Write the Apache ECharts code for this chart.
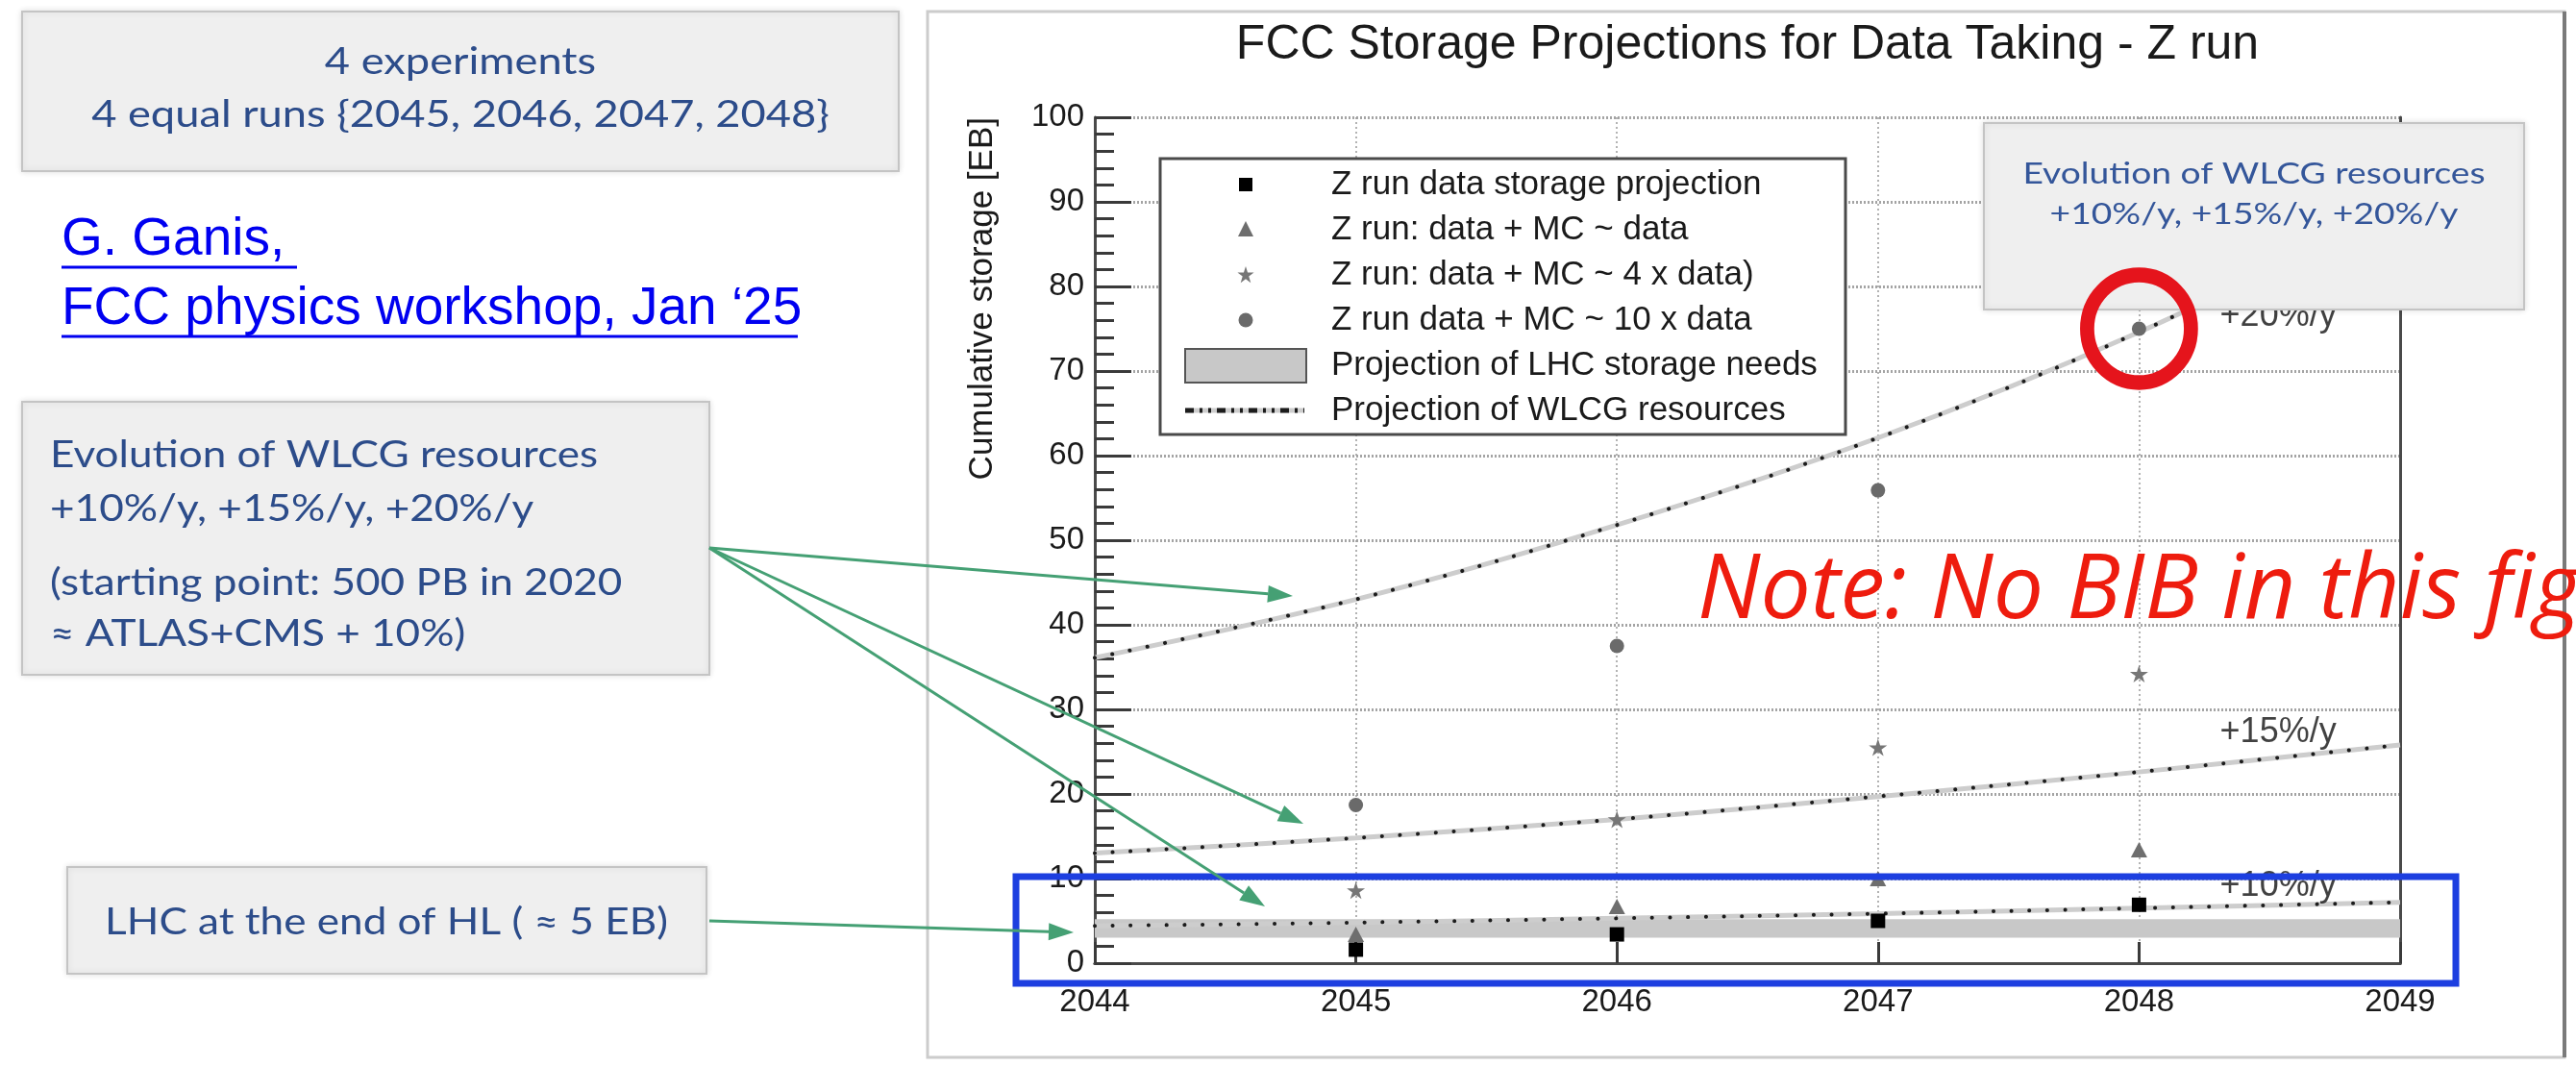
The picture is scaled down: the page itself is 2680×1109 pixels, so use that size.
<!DOCTYPE html>
<html>
<head>
<meta charset="utf-8">
<script src="https://cdn.jsdelivr.net/npm/echarts@6/dist/echarts.min.js"></script>
<style>
  html, body { margin: 0; padding: 0; background: #ffffff; }
  #chart { width: 2680px; height: 1109px; }
</style>
</head>
<body>
<div id="chart"></div>
<script>
// Run years and cumulative storage per scenario [EB]
const runYears = [2045, 2046, 2047, 2048];
const zRunData = [1.6, 3.4, 5.0, 6.9];
const dataMcEqual = [3.4, 6.7, 10.0, 13.4];
const dataMc4x = [8.6, 17.0, 25.5, 34.2];
const dataMc10x = [18.7, 37.5, 55.9, 75.0];

// WLCG resource projections, yearly growth of 20%, 15%, 10%
const wlcgYears = [2044, 2045, 2046, 2047, 2048, 2049];
const wlcg20 = [36.1, 43.0, 51.8, 62.1, 74.6, 89.5];
const wlcg15 = [13.0, 14.8, 17.0, 19.7, 22.6, 25.8];
const wlcg10 = [4.4, 4.8, 5.3, 5.85, 6.5, 7.2];

// LHC storage needs band [low, high] over the whole range
const lhcBand = [3.0, 5.2];
const axisYears = [2044, 2049];

// growth tags written next to the projection curves: [year, EB]
const rateTags = ['+20%/y', '+15%/y', '+10%/y'];
const rateTagAt = [[2048.31, 76.5], [2048.31, 27.3], [2048.31, 9.1]];

const legendNames = [
  'Z run data storage projection',
  'Z run: data + MC ~ data',
  'Z run: data + MC ~ 4 x data)',
  'Z run data + MC ~ 10 x data',
  'Projection of LHC storage needs',
  'Projection of WLCG resources'
];

const ROOT_FONT = '"Liberation Sans", Arial, Helvetica, sans-serif';
const SLIDE_FONT = 'Lato, "Open Sans", sans-serif';
const SLIDE_BLUE = '#2c4c8a';
const ARROW_GREEN = '#45a074';
const STAR_PTS = [[50, 0], [61.2, 34.5], [97.6, 34.5], [68.2, 55.9], [79.4, 90.5], [50, 69.1], [20.6, 90.5], [31.8, 55.9], [2.4, 34.5], [38.8, 34.5]];
const STAR = 'path://M' + STAR_PTS.map(p => p.join(',')).join(' L') + ' Z';

const pair = (xs, ys) => xs.map((x, i) => [x, ys[i]]);

function wlcgSeries(values) {
  return [
    {
      name: legendNames[5], type: 'line', data: pair(wlcgYears, values),
      smooth: 0.35, showSymbol: false, silent: true, z: 3,
      lineStyle: { color: '#cdcdcd', width: 5 }
    },
    {
      name: legendNames[5], type: 'line', data: pair(wlcgYears, values),
      smooth: 0.35, showSymbol: false, silent: true, z: 4,
      lineStyle: { color: '#1c1c1c', width: 4, type: [0.1, 18.6], cap: 'round' }
    }
  ];
}

function arrow(x1, y1, x2, y2) {
  const a = Math.atan2(y2 - y1, x2 - x1);
  const L = 26, W = 9;
  const bx = x2 - L * Math.cos(a), by = y2 - L * Math.sin(a);
  const px = -Math.sin(a) * W, py = Math.cos(a) * W;
  return [
    { type: 'line', z: 66, shape: { x1, y1, x2: bx, y2: by }, style: { stroke: ARROW_GREEN, lineWidth: 3 } },
    { type: 'polygon', z: 66, shape: { points: [[x2, y2], [bx + px, by + py], [bx - px, by - py]] }, style: { fill: ARROW_GREEN } }
  ];
}

function slideBox(x, y, w, h) {
  return {
    type: 'rect', z: 50, shape: { x, y, width: w, height: h },
    style: { fill: '#efefef', stroke: '#c4c4c4', lineWidth: 2, shadowBlur: 6, shadowColor: 'rgba(0,0,0,0.12)' }
  };
}

// slide captions use a wide geometric sans; Lato is stretched a little to match
function slideText(text, x, y, size, align, color, stretch) {
  return {
    type: 'text', z: 51, x, y, scaleX: stretch || 1.16,
    style: { text, fontFamily: SLIDE_FONT, fontSize: size, fill: color || SLIDE_BLUE, align: align || 'left', verticalAlign: 'middle' }
  };
}

// legend drawn as a framed box with marker samples
const legendTop = 192, legendStep = 47, iconX = 1296, labelX = 1385;
const starCy = legendTop + 2 * legendStep;
const legendGraphics = [
  { type: 'rect', z: 30, shape: { x: 1207, y: 165, width: 713, height: 287 }, style: { fill: '#ffffff', stroke: '#4a4a4a', lineWidth: 3 } },
  { type: 'rect', z: 31, shape: { x: iconX - 7, y: legendTop - 7, width: 14, height: 14 }, style: { fill: '#000000' } },
  { type: 'polygon', z: 31, shape: { points: [[iconX, legendTop + legendStep - 9], [iconX + 8, legendTop + legendStep + 7], [iconX - 8, legendTop + legendStep + 7]] }, style: { fill: '#6e6e6e' } },
  { type: 'polygon', z: 31, shape: { points: STAR_PTS.map(p => [iconX - 9 + p[0] * 0.18, starCy - 9 + p[1] * 0.19]) }, style: { fill: '#767676' } },
  { type: 'circle', z: 31, shape: { cx: iconX, cy: legendTop + 3 * legendStep, r: 7.5 }, style: { fill: '#6a6a6a' } },
  { type: 'rect', z: 31, shape: { x: 1233, y: legendTop + 4 * legendStep - 17, width: 126, height: 35 }, style: { fill: '#c8c8c8', stroke: '#555555', lineWidth: 2 } },
  { type: 'line', z: 31, shape: { x1: 1233, y1: legendTop + 5 * legendStep, x2: 1357, y2: legendTop + 5 * legendStep }, style: { stroke: '#cdcdcd', lineWidth: 5 } },
  { type: 'line', z: 32, shape: { x1: 1233, y1: legendTop + 5 * legendStep, x2: 1357, y2: legendTop + 5 * legendStep }, style: { stroke: '#1c1c1c', lineWidth: 5, lineDash: [9, 6, 3, 6, 3, 6] } }
].concat(legendNames.map((name, i) => ({
  type: 'text', z: 31, x: labelX, y: legendTop + i * legendStep,
  style: { text: name, fontFamily: ROOT_FONT, fontSize: 35, fill: '#1a1a1a', align: 'left', verticalAlign: 'middle' }
})));

const chart = echarts.init(document.getElementById('chart'), null, { renderer: 'canvas' });

const axisText = { fontFamily: ROOT_FONT, fontSize: 33, color: '#1a1a1a' };
const frameAxis = { show: true, lineStyle: { color: '#4a4a4a', width: 3 } };

chart.setOption({
  animation: false,
  backgroundColor: '#ffffff',
  grid: { left: 1139, right: 183, top: 122, bottom: 107 },
  xAxis: [
    {
      type: 'value', min: axisYears[0], max: axisYears[1], interval: 1,
      axisLine: frameAxis,
      axisTick: { inside: true, length: 22, lineStyle: { color: '#3a3a3a', width: 3 } },
      axisLabel: Object.assign({ margin: 24, formatter: v => String(v) }, axisText),
      splitLine: { show: true, lineStyle: { color: '#9a9a9a', width: 1.5, type: [2, 3] } }
    },
    {
      type: 'value', position: 'top', min: axisYears[0], max: axisYears[1], interval: 1,
      axisLine: frameAxis, axisTick: { show: false }, axisLabel: { show: false }, splitLine: { show: false }
    }
  ],
  yAxis: [
    {
      type: 'value', min: 0, max: 100, interval: 10,
      axisLine: frameAxis,
      axisTick: { inside: true, length: 38, lineStyle: { color: '#3a3a3a', width: 3 } },
      minorTick: { show: true, splitNumber: 5, length: 20, lineStyle: { color: '#3a3a3a', width: 3 } },
      axisLabel: Object.assign({ margin: 11 }, axisText),
      splitLine: { show: true, lineStyle: { color: '#a4a4a4', width: 3, type: [2, 2] } }
    },
    {
      type: 'value', position: 'right', min: 0, max: 100, interval: 10,
      axisLine: frameAxis, axisTick: { show: false }, axisLabel: { show: false }, splitLine: { show: false }
    }
  ],
  series: [
    {
      name: legendNames[4], type: 'line', data: [[axisYears[0], lhcBand[0]]],
      showSymbol: false, silent: true, z: 1, lineStyle: { opacity: 0 },
      markArea: {
        silent: true, itemStyle: { color: '#c8c8c8' },
        data: [[{ coord: [axisYears[0], lhcBand[0]] }, { coord: [axisYears[1], lhcBand[1]] }]]
      }
    },
    ...wlcgSeries(wlcg20),
    ...wlcgSeries(wlcg15),
    ...wlcgSeries(wlcg10),
    {
      name: legendNames[0], type: 'scatter', data: pair(runYears, zRunData), z: 6,
      symbol: 'rect', symbolSize: 15, itemStyle: { color: '#000000', opacity: 1 }
    },
    {
      name: legendNames[1], type: 'scatter', data: pair(runYears, dataMcEqual), z: 6,
      symbol: 'triangle', symbolSize: [17, 16], itemStyle: { color: '#6e6e6e', opacity: 1 }
    },
    {
      name: legendNames[2], type: 'scatter', data: pair(runYears, dataMc4x), z: 6,
      symbol: STAR, symbolSize: [19, 18], itemStyle: { color: '#767676', opacity: 1 }
    },
    {
      name: legendNames[3], type: 'scatter', data: pair(runYears, dataMc10x), z: 6,
      symbol: 'circle', symbolSize: 15, itemStyle: { color: '#6a6a6a', opacity: 1 }
    },
    {
      name: 'growth tags', type: 'scatter', symbolSize: 0, silent: true, z: 10,
      data: rateTags.map((t, i) => ({ name: t, value: rateTagAt[i] })),
      label: { show: true, position: 'right', distance: 0, formatter: '{b}', fontFamily: ROOT_FONT, fontSize: 36, color: '#111111' }
    },
    {
      // red ring around the 10 x data point of the last run
      name: 'highlight', type: 'scatter', silent: true, z: 60,
      data: [[runYears[3], dataMc10x[3]]],
      symbol: 'circle', symbolSize: [108, 112],
      itemStyle: { color: 'rgba(0,0,0,0)', borderColor: '#e5141c', borderWidth: 15, opacity: 1 }
    }
  ],
  graphic: [
    // plot panel
    { type: 'rect', z: -10, shape: { x: 965, y: 12, width: 1703, height: 1088 }, style: { fill: '#ffffff', stroke: '#cccccc', lineWidth: 3 } },
    { type: 'line', z: -9, shape: { x1: 2668, y1: 12, x2: 2668, y2: 1100 }, style: { stroke: '#7a7a7a', lineWidth: 4 } },
    { type: 'text', z: 20, x: 1818, y: 47, style: { text: 'FCC Storage Projections for Data Taking - Z run', fontFamily: ROOT_FONT, fontSize: 50, fill: '#1a1a1a', align: 'center', verticalAlign: 'middle' } },
    { type: 'text', z: 20, x: 1022, y: 122, rotation: Math.PI / 2, style: { text: 'Cumulative storage [EB]', fontFamily: ROOT_FONT, fontSize: 35, fill: '#1a1a1a', align: 'right', verticalAlign: 'middle' } },
    ...legendGraphics,

    // slide annotations
    slideBox(23, 12, 912, 166),
    slideText('4 experiments', 479, 64, 39, 'center'),
    slideText('4 equal runs {2045, 2046, 2047, 2048}', 479, 119, 39, 'center'),

    { type: 'text', z: 51, x: 64, y: 250, style: { text: 'G. Ganis, ', fontFamily: ROOT_FONT, fontSize: 55, fill: '#0000f0', align: 'left', verticalAlign: 'middle' } },
    { type: 'text', z: 51, x: 64, y: 322, style: { text: 'FCC physics workshop, Jan \u201825', fontFamily: ROOT_FONT, fontSize: 55, fill: '#0000f0', align: 'left', verticalAlign: 'middle' } },
    { type: 'line', z: 51, shape: { x1: 64, y1: 278, x2: 309, y2: 278 }, style: { stroke: '#0000f0', lineWidth: 3 } },
    { type: 'line', z: 51, shape: { x1: 64, y1: 350, x2: 830, y2: 350 }, style: { stroke: '#0000f0', lineWidth: 3 } },

    slideBox(23, 418, 715, 284),
    slideText('Evolution of WLCG resources', 52, 474, 38),
    slideText('+10%/y, +15%/y, +20%/y', 52, 530, 38),
    slideText('(starting point: 500 PB in 2020', 52, 607, 38),
    slideText('\u2248 ATLAS+CMS + 10%)', 52, 660, 38),

    slideBox(70, 902, 665, 111),
    slideText('LHC at the end of HL ( \u2248 5 EB)', 402, 960, 38, 'center'),

    slideBox(2064, 128, 562, 194),
    slideText('Evolution of WLCG resources', 2345, 181, 31, 'center', '#34569a', 1.2),
    slideText('+10%/y, +15%/y, +20%/y', 2345, 223, 31, 'center', '#34569a', 1.2),

    ...arrow(738, 570, 1345, 620),
    ...arrow(738, 570, 1356, 857),
    ...arrow(738, 570, 1316, 943),
    ...arrow(738, 958, 1117, 970),

    { type: 'rect', z: 65, shape: { x: 1057, y: 912, width: 1498, height: 111 }, style: { fill: 'none', stroke: '#1d3fe0', lineWidth: 7 } },

    { type: 'text', z: 70, x: 1766, y: 616, style: { text: 'Note: No BIB in this figure', fontFamily: '"Open Sans", "Noto Sans", sans-serif', fontStyle: 'italic', fontSize: 93, fill: '#ee1c0e', align: 'left', verticalAlign: 'middle' } }
  ]
});
</script>
</body>
</html>
